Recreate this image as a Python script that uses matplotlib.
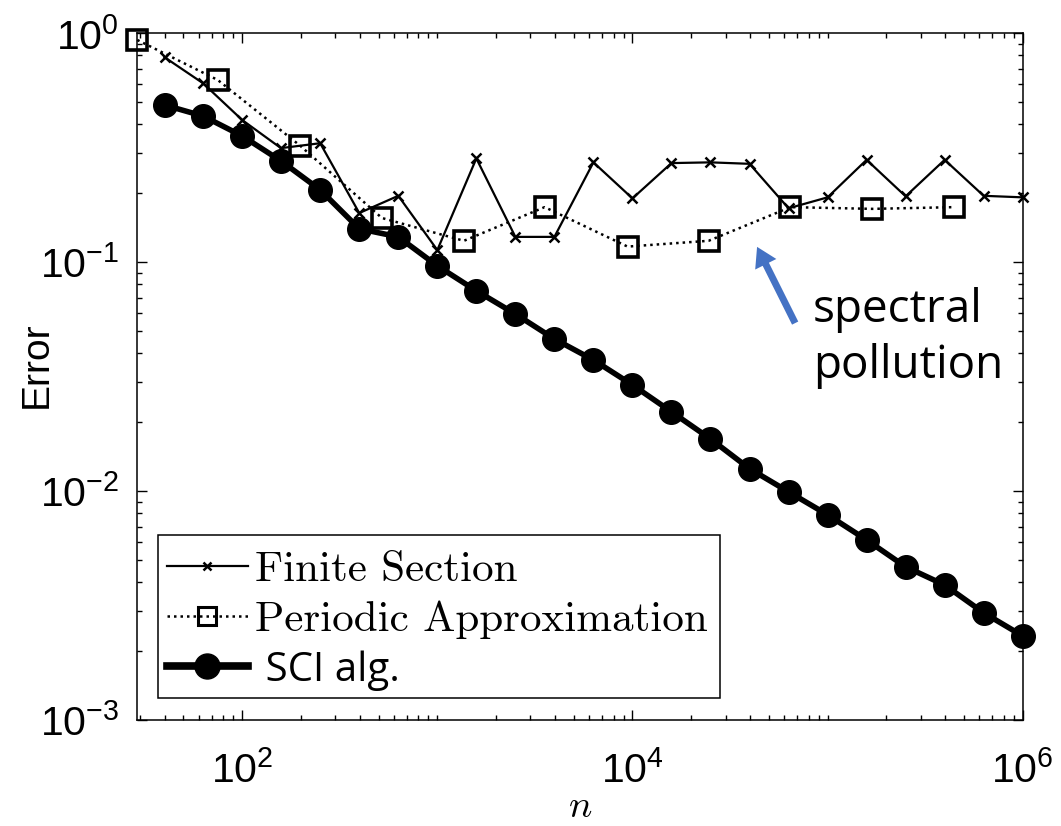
import math
import matplotlib
matplotlib.use('Agg')
import matplotlib.pyplot as plt
from matplotlib.patches import Rectangle
from matplotlib.ticker import FixedLocator, LogLocator, FuncFormatter, NullFormatter

plt.rcParams['mathtext.fontset'] = 'cm'
plt.rcParams['font.family'] = ['Liberation Sans', 'DejaVu Sans']

# ---- data ----
fs_n = [40, 63, 100, 158, 251, 398, 631, 1000, 1585, 2512, 3981, 6310,
        10000, 15849, 25119, 39811, 63096, 100000, 158489, 251189, 398107,
        630957, 1000000]
fs_err = [0.786, 0.605, 0.418, 0.315, 0.331, 0.164, 0.195, 0.113, 0.284,
          0.129, 0.129, 0.273, 0.190, 0.271, 0.273, 0.269, 0.172, 0.192,
          0.280, 0.194, 0.280, 0.195, 0.192]

pa_n = [29, 75, 198, 520, 1368, 3548, 9441, 24547, 64565, 169824, 446684]
pa_err = [0.935, 0.625, 0.323, 0.156, 0.124, 0.174, 0.117, 0.124, 0.174,
          0.171, 0.174]

sci_n = [40, 63, 100, 158, 251, 398, 631, 1000, 1585, 2512, 3981, 6310,
         10000, 15849, 25119, 39811, 63096, 100000, 158489, 251189, 398107,
         630957, 1000000]
sci_err = [0.486, 0.435, 0.356, 0.277, 0.207, 0.140, 0.129, 0.0964, 0.075,
           0.0594, 0.0462, 0.0374, 0.0291, 0.0222, 0.0169, 0.01253, 0.00993,
           0.00788, 0.00612, 0.00467, 0.00389, 0.00294, 0.00233]

labels = ['Finite Section', 'Periodic Approximation', ' SCI alg.']
x_major = [1e2, 1e4, 1e6]
y_major = [1e-3, 1e-2, 1e-1, 1e0]

fig = plt.figure(figsize=(10.61, 8.26), dpi=100)
ax = fig.add_axes([0.1294, 0.1283, 0.8345, 0.8314])

ax.plot(fs_n, fs_err, color='k', lw=1.6, marker='x', ms=7.5, mew=1.8,
        label=labels[0], zorder=3, clip_on=False)
ax.plot(pa_n, pa_err, color='k', lw=1.8, ls=(0, (1, 1.6)), marker='s',
        ms=15, mfc='none', mec='k', mew=2.6, label=labels[1], zorder=4,
        clip_on=False)
ax.plot(sci_n, sci_err, color='k', lw=4, marker='o', ms=17,
        label=labels[2], zorder=5, clip_on=False)

ax.set_xscale('log')
ax.set_yscale('log')
ax.set_xlim(29, 1e6)
ax.set_ylim(1e-3, 1e0)

ax.xaxis.set_major_locator(FixedLocator(x_major))
ax.xaxis.set_minor_locator(LogLocator(base=10, subs=tuple(range(1, 10)), numticks=50))
ax.yaxis.set_major_locator(FixedLocator(y_major))
ax.yaxis.set_minor_locator(LogLocator(base=10, subs=tuple(range(2, 10)), numticks=50))

fmt = FuncFormatter(lambda v, p: r'$\mathregular{10^{%d}}$' % round(math.log10(v)))
ax.xaxis.set_major_formatter(fmt)
ax.yaxis.set_major_formatter(fmt)
ax.xaxis.set_minor_formatter(NullFormatter())
ax.yaxis.set_minor_formatter(NullFormatter())

ax.tick_params(which='both', direction='in', top=True, right=True, width=1.0)
ax.tick_params(which='major', length=7, labelsize=29.5)
ax.tick_params(which='minor', length=3.8)
ax.tick_params(axis='x', which='major', pad=22)
ax.tick_params(axis='y', which='major', pad=13)
for s in ax.spines.values():
    s.set_linewidth(1.1)

ax.set_ylabel('Error', fontsize=28)
ax.yaxis.set_label_coords(-0.093, 0.517)
ax.set_xlabel('$n$', fontsize=28)
ax.xaxis.set_label_coords(0.5, -0.101)

# legend (frame drawn separately as a box)
leg = ax.legend(loc='upper left', bbox_to_anchor=(0.0335, 0.246),
                borderaxespad=0, borderpad=0, frameon=False, fontsize=31,
                handlelength=1.88, handletextpad=0.16, labelspacing=0.26)
txts = leg.get_texts()
txts[0].set_fontfamily('cmr10')
txts[1].set_fontfamily('cmr10')
txts[2].set_fontfamily('Open Sans')
txts[2].set_fontsize(29)
hs = leg.legend_handles
hs[0].set_markersize(6)
hs[1].set_markersize(13)
hs[1].set_markeredgewidth(2.2)
hs[2].set_markersize(18)
hs[2].set_linewidth(5.5)
ax.add_patch(Rectangle((0.0233, 0.0317), 0.6352, 0.2374, transform=ax.transAxes,
                       facecolor='white', edgecolor='k', lw=1.1, zorder=6))
leg.set_zorder(7)

ax.annotate('', xy=(0.700, 0.689), xycoords='axes fraction',
            xytext=(0.743, 0.578), textcoords='axes fraction',
            arrowprops=dict(facecolor='#4472C4', edgecolor='none', width=5,
                            headwidth=17, headlength=14, shrink=0))
ax.text(0.763, 0.631, 'spectral\npollution', transform=ax.transAxes,
        fontsize=33, family='Open Sans', va='top', ha='left',
        linespacing=1.3, color='k')

fig.savefig('out.png', dpi=100)
